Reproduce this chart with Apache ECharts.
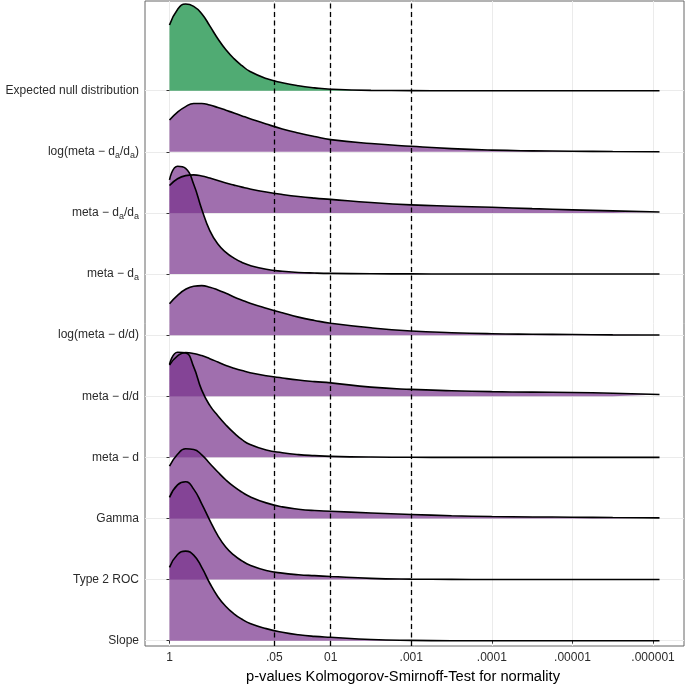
<!DOCTYPE html>
<html><head><meta charset="utf-8">
<script src="https://cdn.jsdelivr.net/npm/echarts@6/dist/echarts.min.js"></script>
<style>html,body{margin:0;padding:0;background:#fff}#c{width:685px;height:685px}</style>
</head><body><div id="c"></div>
<script>
// Row labels, top to bottom
const rowLabels = [
  'Expected null distribution',
  'log(meta − d{s|a}/d{s|a})',
  'meta − d{s|a}/d{s|a}',
  'meta − d{s|a}',
  'log(meta − d/d)',
  'meta − d/d',
  'meta − d',
  'Gamma',
  'Type 2 ROC',
  'Slope'
];
// x positions (-log10 p) at which ridge heights were read
const xGrid = [0, 0.1, 0.2, 0.3, 0.4, 0.5, 0.6, 0.7, 0.8, 0.9, 1.0, 1.2, 1.4, 1.6, 1.8, 2.0, 2.5, 3.0, 3.5, 4.0, 4.5, 5.0, 5.5, 6.08];
// ridge heights (in row units)
const dExpected   = [1.075,1.33,1.418,1.38,1.26,1.06,0.85,0.67,0.525,0.41,0.315,0.2,0.13,0.08,0.047,0.025,0.006,0.002,0,0,0,0,0,0];
const dLogMetaDaDa= [0.52,0.65,0.74,0.79,0.79,0.765,0.725,0.68,0.635,0.588,0.542,0.455,0.375,0.308,0.25,0.2,0.135,0.09,0.052,0.028,0.016,0.01,0.005,0.002];
const dMetaDaDa   = [0.45,0.56,0.61,0.622,0.605,0.57,0.53,0.49,0.455,0.422,0.392,0.343,0.302,0.268,0.242,0.222,0.17,0.132,0.11,0.092,0.07,0.05,0.033,0.016];
const dMetaDa     = [1.54,1.765,1.73,1.47,1.06,0.71,0.49,0.355,0.26,0.19,0.14,0.078,0.045,0.026,0.016,0.01,0.004,0.002,0,0,0,0,0,0];
const dLogMetaDD  = [0.515,0.65,0.75,0.80,0.81,0.785,0.74,0.685,0.625,0.572,0.522,0.44,0.365,0.295,0.24,0.195,0.12,0.068,0.04,0.023,0.015,0.01,0.005,0.002];
const dMetaDD     = [0.51,0.66,0.715,0.7,0.665,0.615,0.56,0.505,0.46,0.42,0.385,0.335,0.298,0.265,0.24,0.219,0.15,0.112,0.09,0.075,0.068,0.062,0.048,0.028];
const dMetaD      = [1.52,1.72,1.71,1.48,1.1,0.85,0.68,0.53,0.4,0.29,0.21,0.12,0.075,0.045,0.028,0.016,0.005,0.002,0,0,0,0,0,0];
const dGamma      = [0.856,1.05,1.14,1.13,1.04,0.9,0.76,0.63,0.52,0.43,0.355,0.255,0.19,0.152,0.13,0.119,0.09,0.065,0.045,0.031,0.025,0.021,0.015,0.01];
const dType2ROC   = [1.345,1.55,1.6,1.48,1.24,0.97,0.72,0.53,0.4,0.305,0.235,0.15,0.105,0.08,0.064,0.05,0.02,0.008,0.004,0.002,0.002,0.002,0.002,0.002];
const dSlope      = [1.2,1.41,1.465,1.4,1.2,0.94,0.72,0.56,0.44,0.35,0.28,0.197,0.138,0.096,0.07,0.055,0.02,0.005,0,0,0,0,0,0];
const rowDensities = [dExpected,dLogMetaDaDa,dMetaDaDa,dMetaDa,dLogMetaDD,dMetaDD,dMetaD,dGamma,dType2ROC,dSlope];
// x-axis ticks (p-values) and their labels
const pTicks = [1, 0.05, 0.01, 0.001, 0.0001, 0.00001, 0.000001];
const pTickLabels = ['1', '.05', '01', '.001', '.0001', '.00001', '.000001'];
const pDashed = [0.05, 0.01, 0.001];
const xTitle = 'p-values Kolmogorov-Smirnoff-Test for normality';

const toX = p => -Math.log10(p);
const nRows = rowLabels.length;
const FONT = '"Liberation Sans", Arial, Helvetica, sans-serif';
const GREEN = 'rgba(5,135,55,0.7)';
const PURPLE = 'rgba(120,50,140,0.7)';
const Y_MIN = -0.087, Y_MAX = 10.468;

// main y axis (labels, ticks, grid lines)
const yAxes = [{
  type: 'value', min: Y_MIN, max: Y_MAX,
  axisLine: { show: false },
  axisTick: { show: true, length: 3, lineStyle: { color: '#333' }, customValues: rowLabels.map((_, i) => i) },
  axisLabel: {
    customValues: rowLabels.map((_, i) => i), margin: 6, color: '#2b2b2b', fontSize: 12, fontFamily: FONT,
    lineHeight: 16,
    formatter: v => rowLabels[nRows - 1 - Math.round(v)],
    rich: { s: { fontSize: 9, lineHeight: 7, verticalAlign: 'bottom', color: '#2b2b2b', fontFamily: FONT } }
  },
  splitLine: { show: true, lineStyle: { color: '#EBEBEB', width: 1 } }
}];

const series = [];
rowDensities.forEach((d, k) => {
  const base = nRows - 1 - k;
  // a hidden y axis per ridge whose zero sits on the ridge's baseline
  yAxes.push({
    type: 'value', min: Y_MIN - base, max: Y_MAX - base, show: false,
    splitLine: { show: false }
  });
  const s = {
    type: 'line', yAxisIndex: k + 1, silent: true, symbol: 'none',
    smooth: 0.5,
    data: xGrid.map((x, i) => [x, d[i]]),
    lineStyle: { color: '#000', width: 1.6 },
    areaStyle: { color: k === 0 ? GREEN : PURPLE, opacity: 1, origin: 'auto' },
    z: 2
  };
  if (k === nRows - 1) {
    s.markLine = {
      silent: true, symbol: ['none', 'none'], label: { show: false },
      lineStyle: { type: [5, 3.5], color: '#000', width: 1.3 },
      emphasis: { disabled: true },
      data: pDashed.map(p => ({ xAxis: toX(p) })),
      z: 10
    };
  }
  series.push(s);
});

const xMax = xGrid[xGrid.length - 1];
const chart = echarts.init(document.getElementById('c'));
chart.setOption({
  animation: false,
  backgroundColor: '#fff',
  grid: { left: 145, right: 1, top: 1, bottom: 39, show: true, borderColor: '#666', borderWidth: 1, backgroundColor: 'transparent' },
  xAxis: {
    type: 'value', min: -0.05 * xMax, max: 1.05 * xMax,
    axisLine: { show: false },
    axisTick: { show: true, length: 3, lineStyle: { color: '#333' }, customValues: pTicks.map(toX) },
    axisLabel: {
      customValues: pTicks.map(toX), margin: 6, color: '#2b2b2b', fontSize: 12, fontFamily: FONT,
      formatter: v => { const i = pTicks.findIndex(p => Math.abs(toX(p) - v) < 1e-6); return i >= 0 ? pTickLabels[i] : ''; }
    },
    splitLine: { show: true, lineStyle: { color: '#EBEBEB', width: 1 } }
  },
  yAxis: yAxes,
  graphic: [{
    type: 'text', x: 403, y: 677, silent: true,
    style: { text: xTitle, fill: '#000', fontSize: 14.7, fontFamily: FONT, textAlign: 'center', textVerticalAlign: 'middle' }
  }],
  series: series
});
</script></body></html>
